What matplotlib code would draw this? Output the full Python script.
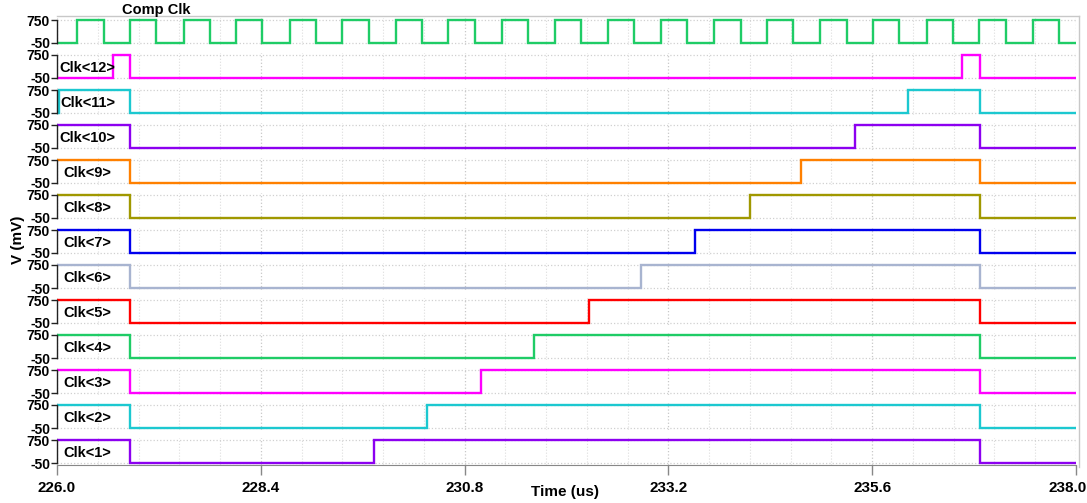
import matplotlib.pyplot as plt
from matplotlib.lines import Line2D
import matplotlib.transforms as mtransforms
import numpy as np

plt.rcParams['font.family'] = ['Liberation Sans', 'DejaVu Sans']
plt.rcParams['font.weight'] = 'bold'

# signal names, top to bottom
names = ['Comp Clk', 'Clk<12>', 'Clk<11>', 'Clk<10>', 'Clk<9>', 'Clk<8>', 'Clk<7>',
         'Clk<6>', 'Clk<5>', 'Clk<4>', 'Clk<3>', 'Clk<2>', 'Clk<1>']
colors = ['#1fcc66', '#ff00ff', '#1cc8d0', '#8c00f0', '#ff8000', '#a09800', '#0000ee',
          '#a8b4d0', '#ff0000', '#1fcc66', '#ff00ff', '#1cc8d0', '#8c00f0']

# comparator clock edges (us)
comp_rise = [226.24, 226.86, 227.49, 228.11, 228.74, 229.36, 229.99, 230.61, 231.24, 231.86,
             232.49, 233.11, 233.74, 234.36, 234.99, 235.61, 236.24, 236.86, 237.49]
comp_fall = [226.55, 227.17, 227.80, 228.42, 229.05, 229.67, 230.30, 230.92, 231.55, 232.17,
             232.80, 233.42, 234.05, 234.67, 235.30, 235.92, 236.55, 237.17, 237.80]

# start level (mV) and toggle edges (us) for Clk<12> .. Clk<1>
start_level = [-50, -50, 750, 750, 750, 750, 750, 750, 750, 750, 750, 750]
clk_edges = [
    [226.66, 226.86, 236.66, 236.87],
    [226.02, 226.86, 236.02, 236.87],
    [226.86, 235.40, 236.87],
    [226.86, 234.76, 236.87],
    [226.86, 234.16, 236.87],
    [226.86, 233.51, 236.87],
    [226.86, 232.88, 236.87],
    [226.86, 232.27, 236.87],
    [226.86, 231.62, 236.87],
    [226.86, 230.99, 236.87],
    [226.86, 230.36, 236.87],
    [226.86, 229.73, 236.87],
]

V_LO, V_HI = -50, 750
T0, T1 = 226.0, 238.0


def wave(level, edges):
    t = [T0]
    v = [level]
    for e in edges:
        level = V_HI if level == V_LO else V_LO
        t.append(e)
        v.append(level)
    t.append(T1)
    v.append(level)
    return t, v


comp_edges = sorted(comp_rise + comp_fall)
waves = [wave(V_LO, comp_edges)] + [wave(s, e) for s, e in zip(start_level, clk_edges)]

W, H = 1087, 503
fig = plt.figure(figsize=(W / 100, H / 100), dpi=100)

x0, x1 = 57, 1076
pad = 80  # mV padding above/below
pxmv = 23 / 800.0
axes = []
for i, (t, v) in enumerate(waves):
    top = 20 + 35 * i - pad * pxmv
    bot = 43 + 35 * i + pad * pxmv
    ax = fig.add_axes([x0 / W, 1 - bot / H, (x1 - x0) / W, (bot - top) / H])
    ax.plot(t, v, drawstyle='steps-post', color=colors[i], lw=1.7, solid_joinstyle='miter')
    ax.set_xlim(T0, T1)
    ax.set_ylim(V_LO - pad, V_HI + pad)
    ax.set_yticks([V_LO, V_HI])
    ax.set_yticklabels(['-50', '750'], fontsize=10, fontweight='bold')
    ax.set_xticks(np.arange(T0, T1 + 0.01, 2.4))
    ax.set_xticks(np.arange(T0, T1 + 0.01, 0.48), minor=True)
    ax.grid(True, which='major', axis='x', color='#c8c8c8', ls=':', lw=0.9)
    ax.grid(True, which='minor', axis='x', color='#dddddd', ls=':', lw=0.8)
    ax.grid(True, which='major', axis='y', color='#d0d0d0', ls=':', lw=0.9)
    for s in ['top', 'right', 'bottom']:
        ax.spines[s].set_visible(False)
    ax.spines['left'].set_bounds(V_LO, V_HI)
    ax.spines['left'].set_color('#222222')
    ax.spines['left'].set_linewidth(1.0)
    ax.tick_params(axis='y', length=4, width=1.0, pad=1, colors='#222222', labelcolor='black')
    ax.tick_params(axis='x', which='both', length=0)
    if i > 0:
        ax.text(226.36, 300, names[i], ha='center', va='center', fontsize=10.5,
                fontweight='bold')
    if i < len(waves) - 1:
        ax.set_xticklabels([])
    axes.append(ax)

# bottom axis
ax = axes[-1]
ax.spines['bottom'].set_visible(True)
ax.spines['bottom'].set_color('#888888')
ax.tick_params(axis='x', which='major', length=7, width=1.0, color='#888888', pad=4)
ax.set_xticklabels(['%.1f' % x for x in np.arange(T0, T1 + 0.01, 2.4)],
                   fontsize=11, fontweight='bold')
last = ax.get_xticklabels()[-1]
last.set_horizontalalignment('right')
last.set_transform(last.get_transform() +
                   mtransforms.ScaledTranslation(11 / 100, 0, fig.dpi_scale_trans))

fig.text(156 / W, 1 - 10 / H, names[0], ha='center', va='center', fontsize=10.5,
         fontweight='bold')
fig.text(565 / W, 1 - 492 / H, 'Time (us)', ha='center', va='center', fontsize=11,
         fontweight='bold')
fig.text(18 / W, 1 - 240 / H, 'V (mV)', ha='center', va='center', rotation=90,
         fontsize=11, fontweight='bold')

# outer frame
fig.add_artist(Line2D([57 / W, 1079 / W], [1 - 16 / H, 1 - 16 / H], color='#c8c8c8', lw=1.0))
fig.add_artist(Line2D([1079 / W, 1079 / W], [1 - 16 / H, 1 - 467 / H], color='#c8c8c8', lw=1.0))

fig.savefig('out.png', dpi=100)
